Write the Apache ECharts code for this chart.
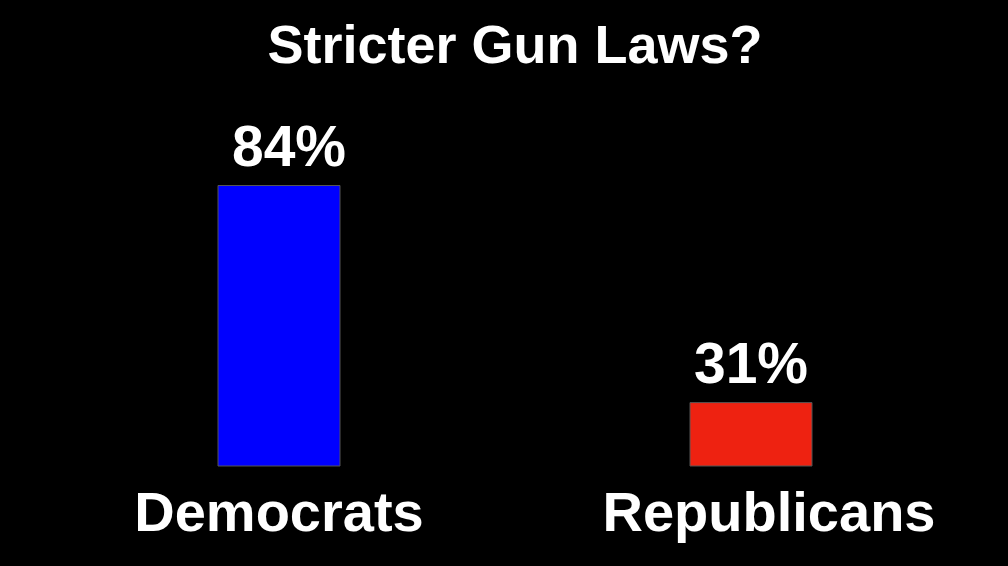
<!DOCTYPE html>
<html>
<head>
<meta charset="utf-8">
<style>html,body{margin:0;padding:0;background:#000;}#c{width:1008px;height:566px;}</style>
<script src="https://cdn.jsdelivr.net/npm/echarts@6/dist/echarts.min.js"></script>
</head>
<body>
<div id="c"></div>
<script>
const categories = ['Democrats', 'Republicans'];
const values = [84, 31];
const barColors = ['#0000ff', '#ee2211'];
const titleText = 'Stricter Gun Laws?';

const FONT = "'Liberation Sans', Arial, Helvetica, sans-serif";
const chart = echarts.init(document.getElementById('c'));
chart.setOption({
  backgroundColor: '#000',
  animation: false,
  title: {
    text: titleText,
    left: 510, top: 16, textAlign: 'center',
    textStyle: { color: '#fff', fontSize: 54, fontWeight: 'bold', fontFamily: FONT }
  },
  grid: { left: 43, width: 944, top: 185, height: 281 },
  xAxis: {
    type: 'category',
    data: categories,
    axisLine: { show: false },
    axisTick: { show: false },
    axisLabel: {
      interval: 0, hideOverlap: false,
      color: '#fff', fontSize: 56, fontWeight: 'bold', fontFamily: FONT, margin: 22,
      formatter: function (v) { return v === 'Republicans' ? '{r|' + v + '}' : '{d|' + v + '}'; },
      rich: {
        d: { color: '#fff', fontSize: 56, fontWeight: 'bold', fontFamily: FONT },
        r: { color: '#fff', fontSize: 56, fontWeight: 'bold', fontFamily: FONT, padding: [0, 0, 0, 36] }
      }
    }
  },
  yAxis: { type: 'value', min: 15.4, max: 84, show: false, splitLine: { show: false } },
  series: [{
    type: 'bar',
    barWidth: 123,
    data: values.map((v, i) => ({
      value: v,
      itemStyle: { color: barColors[i], borderColor: '#555', borderWidth: 1 },
      label: { offset: i === 0 ? [10, 0] : [0, 0] }
    })),
    label: {
      show: true, position: 'top', distance: 6,
      formatter: '{c}%',
      color: '#fff', fontSize: 57, fontWeight: 'bold', fontFamily: FONT
    }
  }]
});
</script>
</body>
</html>
